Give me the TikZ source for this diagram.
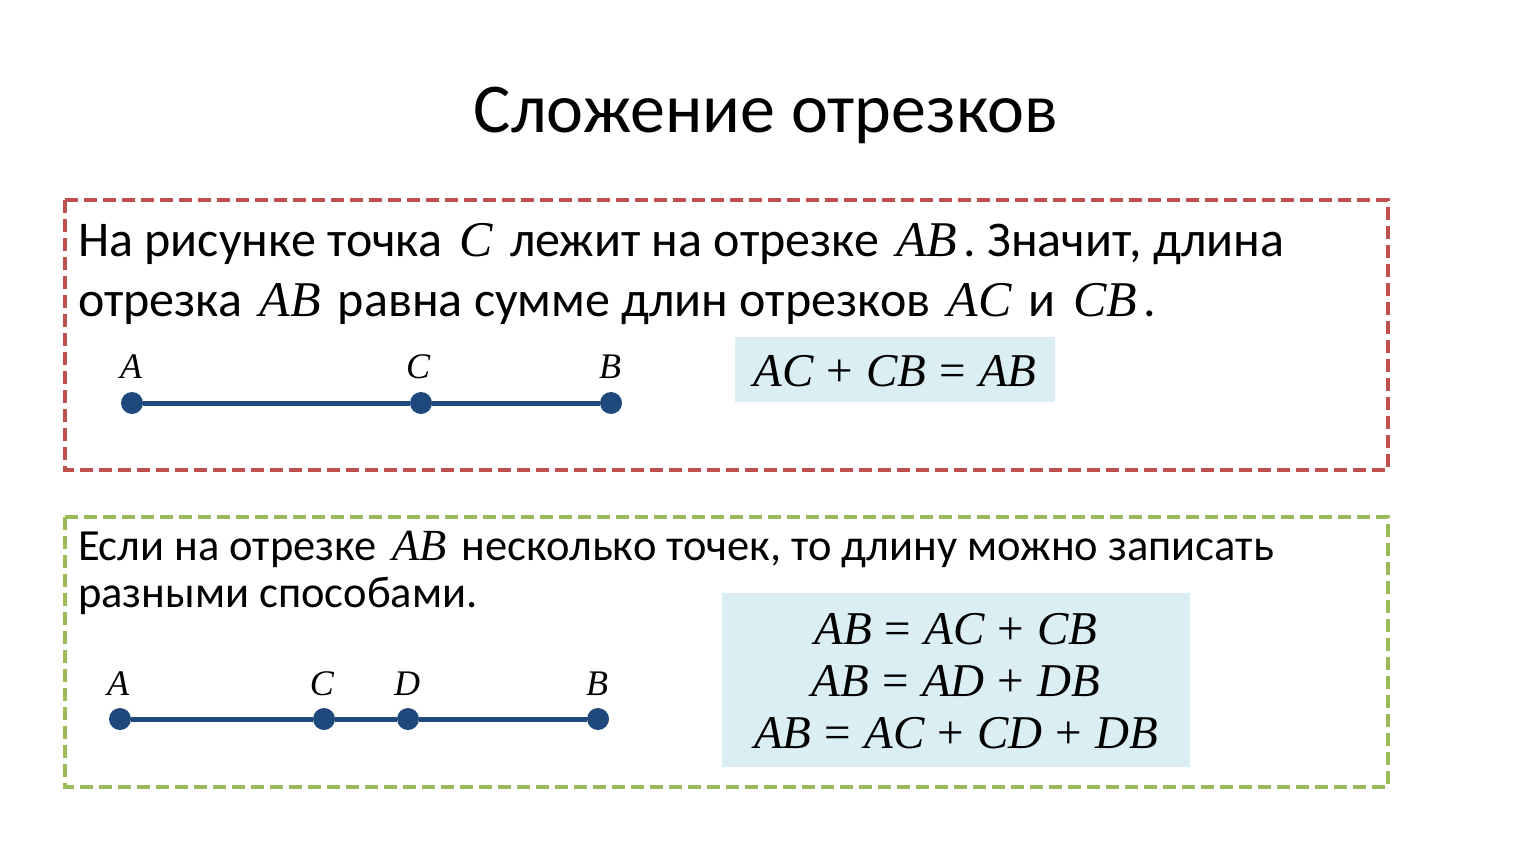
\documentclass[tikz,border=0pt]{standalone}
\usepackage{fontspec}
\setmainfont{Carlito}
\newfontfamily\mfont{Liberation Serif}
\newcommand\mi[1]{\hspace{0.12em}{\mfont\itshape #1}\hspace{0.12em}}
\newcommand\fv[1]{{\mfont\itshape #1}}
\newcommand\op[1]{\hspace{0.03em}{\mfont #1}\hspace{0.03em}}
\definecolor{boxred}{HTML}{C0504D}
\definecolor{boxgreen}{HTML}{9BBB59}
\definecolor{fillblue}{HTML}{DAEEF3}
\definecolor{segblue}{HTML}{1F497D}
\tikzset{
  framebox/.style={line width=4pt, dash pattern=on 13pt off 6pt},
  formbox/.style={fill=fillblue, draw=none},
  dot/.style={circle, fill=segblue, minimum size=22pt, inner sep=0pt},
  seg/.style={draw=segblue, line width=5pt},
  ptlabel/.style={anchor=base, inner sep=0pt, font=\fontsize{36}{40}\selectfont\mfont\itshape},
  bodyA/.style={anchor=base west, inner sep=0pt, font=\fontsize{50}{60}\selectfont},
  bodyB/.style={anchor=base west, inner sep=0pt, font=\fontsize{44.5}{48}\selectfont},
  formula/.style={anchor=base, inner sep=0pt, font=\fontsize{47}{52}\selectfont\mfont},
}
\begin{document}
\begin{tikzpicture}[x=1pt,y=-1pt]
\useasboundingbox (0,0) rectangle (1533,864);
% title
\node[anchor=base, inner sep=0pt, font=\fontsize{70}{80}\selectfont] (title) at (766,132) {Сложение отрезков};
% box 1
\draw[framebox, draw=boxred] (65,200) rectangle (1388,470);
\node[bodyA] (t1) at (78,256) {На рисунке точка \mi{C} лежит на отрезке \mi{AB}. Значит, длина};
\node[bodyA] (t2) at (78,316) {отрезка \mi{AB} равна сумме длин отрезков \mi{AC} и \mi{CB}.};
\fill[formbox] (735,337) rectangle (1055,402);
\node[formula] (f1) at (895,386) {\fv{AC} \op{+} \fv{CB} \op{=} \fv{AB}};
\node[dot] (A1) at (132,403) {};
\node[dot] (C1) at (421,403) {};
\node[dot] (B1) at (611,403) {};
\draw[seg] (A1) -- (C1) -- (B1);
\node[ptlabel] (lA1) at (131,378) {A};
\node[ptlabel] (lC1) at (418,378) {C};
\node[ptlabel] (lB1) at (610,378) {B};
% box 2
\draw[framebox, draw=boxgreen] (65,517) rectangle (1388,787);
\node[bodyB] (s1) at (78,560) {Если на отрезке \mi{AB} несколько точек, то длину можно записать};
\node[bodyB] (s2) at (78,607) {разными способами.};
\fill[formbox] (722,593) rectangle (1190,767);
\node[formula] (g1) at (956,644) {\fv{AB} \op{=} \fv{AC} \op{+} \fv{CB}};
\node[formula] (g2) at (956,696) {\fv{AB} \op{=} \fv{AD} \op{+} \fv{DB}};
\node[formula] (g3) at (956,748) {\fv{AB} \op{=} \fv{AC} \op{+} \fv{CD} \op{+} \fv{DB}};
\node[dot] (A2) at (120,719) {};
\node[dot] (C2) at (324,719) {};
\node[dot] (D2) at (408,719) {};
\node[dot] (B2) at (598,719) {};
\draw[seg] (A2) -- (C2) -- (D2) -- (B2);
\node[ptlabel] (lA2) at (118,695) {A};
\node[ptlabel] (lC2) at (322,695) {C};
\node[ptlabel] (lD2) at (407,695) {D};
\node[ptlabel] (lB2) at (597,695) {B};
\end{tikzpicture}
\end{document}
